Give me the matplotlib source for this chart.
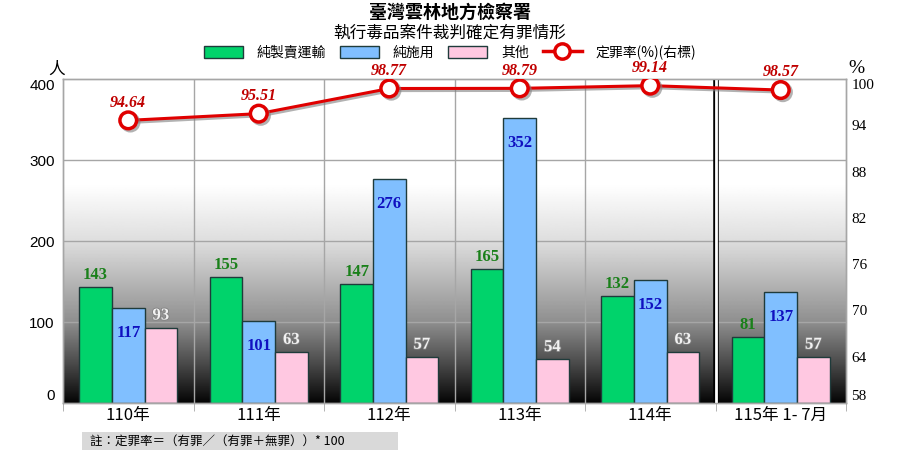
import matplotlib
matplotlib.use("Agg")
import matplotlib.pyplot as plt
import numpy as np
from matplotlib.patches import Patch, Rectangle
from matplotlib.lines import Line2D
import matplotlib.patheffects as pe

categories = ["110年", "111年", "112年", "113年", "114年", "115年 1- 7月"]
trafficking = [143, 155, 147, 165, 132, 81]
usage = [117, 101, 276, 352, 152, 137]
other = [93, 63, 57, 54, 63, 57]
rate = [94.64, 95.51, 98.77, 98.79, 99.14, 98.57]
left_ticks = [0, 100, 200, 300, 400]
right_ticks = [58, 64, 70, 76, 82, 88, 94, 100]
series_names = ["純製賣運輸", "純施用", "其他", "定罪率(%)(右標)"]

CJK = ["Noto Sans CJK TC", "DejaVu Sans"]
SERIF = ["Liberation Serif", "DejaVu Serif"]
SANS = ["Liberation Sans", "DejaVu Sans"]

fig = plt.figure(figsize=(9, 4.5), dpi=100)
ax = fig.add_axes([0.07, 0.1044, 0.87, 0.72])
ax2 = ax.twinx()

n = len(categories)
x = np.arange(n)
w = 0.25
ax.set_xlim(-0.5, n - 0.5)
ax.set_ylim(0, 400)
ax2.set_ylim(58, 100)

# gradient background (white top -> black bottom)
vals = np.linspace(400, 0, 400)
g = np.interp(vals, [0, 50, 100, 200, 270], [0.02, 0.3, 0.56, 0.87, 1.0])
img = np.repeat(g[:, None], 2, axis=1)
ax.imshow(img, cmap="gray", vmin=0, vmax=1, extent=[-0.5, n - 0.5, 0, 400],
          aspect="auto", zorder=0, interpolation="bilinear")

for yv in [100, 200, 300]:
    ax.axhline(yv, color="#a6a6a6", lw=1, zorder=1)
for xb in np.arange(0.5, n - 1, 1.0):
    if abs(xb - 4.5) > 1e-6:
        ax.axvline(xb, color="#a6a6a6", lw=1, zorder=1)

ec = "#1f3b3b"
ax.bar(x - w, trafficking, w, color="#00d36b", edgecolor=ec, lw=1, zorder=2)
ax.bar(x, usage, w, color="#80bfff", edgecolor=ec, lw=1, zorder=2)
ax.bar(x + w, other, w, color="#ffc8e1", edgecolor=ec, lw=1, zorder=2)

# separator double line
ax.axvline(4.5, color="black", lw=4, zorder=3)
ax.axvline(4.5, color="white", lw=2, zorder=3)

for xi, v in zip(x - w, trafficking):
    ax.annotate(str(v), (xi, v), xytext=(0, 3), textcoords="offset points",
                ha="center", va="bottom", fontsize=12, fontweight="bold",
                color="#1a801a", family=SERIF, zorder=5)
for xi, v in zip(x, usage):
    ax.annotate(str(v), (xi, v), xytext=(0, -12), textcoords="offset points",
                ha="center", va="top", fontsize=12, fontweight="bold",
                color="#1010c0", family=SERIF, zorder=5)
for xi, v in zip(x + w, other):
    ax.annotate(str(v), (xi, v), xytext=(0, 3), textcoords="offset points",
                ha="center", va="bottom", fontsize=12, fontweight="bold",
                color="#f2f2f2", family=SERIF, zorder=5,
                path_effects=[pe.withStroke(linewidth=1.2, foreground="#808080")])

ax2.plot(x, rate, color="#e00000", lw=2.2, marker="o", markersize=12,
         markerfacecolor="white", markeredgecolor="#e00000", markeredgewidth=2.5,
         zorder=4,
         path_effects=[pe.SimpleLineShadow(offset=(1.5, -1.5), shadow_color="#808080", alpha=0.6),
                       pe.Normal()])
for xi, v in zip(x, rate):
    ax2.annotate(f"{v:.2f}", (xi, v), xytext=(0, 7), textcoords="offset points",
                 ha="center", va="bottom", fontsize=11.5, fontweight="bold",
                 fontstyle="italic", color="#c00000", family=SERIF)

ax2.patch.set_visible(False)

ax.set_yticks(left_ticks)
ax.set_yticklabels([str(t) for t in left_ticks], family=SANS, fontsize=11)
ax2.set_yticks(right_ticks)
ax2.set_yticklabels([str(t) for t in right_ticks], family=SERIF, fontsize=11)
ax.tick_params(axis="y", length=0, pad=6)
ax2.tick_params(axis="y", length=0, pad=4)
for a in (ax, ax2):
    labs = a.get_yticklabels()
    labs[0].set_va("bottom")
    labs[-1].set_va("top")

ax.set_xticks(x)
ax.set_xticklabels(categories, family=CJK, fontsize=12)
ax.tick_params(axis="x", length=0, pad=3)
ax.set_xticks(np.arange(-0.5, n, 1.0), minor=True)
ax.tick_params(axis="x", which="minor", length=6, color="#a6a6a6")

for a in (ax, ax2):
    for s in a.spines.values():
        s.set_color("#a6a6a6")
        s.set_linewidth(1)

fig.text(0.063, 0.835, "人", family=CJK, fontsize=12, ha="center")
fig.text(0.952, 0.838, "%", family=SERIF, fontsize=14, ha="center")

fig.text(0.5, 0.972, "臺灣雲林地方檢察署", family=CJK, fontsize=13, fontweight="bold",
         ha="center", va="center")
fig.text(0.5, 0.926, "執行毒品案件裁判確定有罪情形", family=CJK, fontsize=12,
         ha="center", va="center")

handles = [
    Patch(facecolor="#00d36b", edgecolor=ec),
    Patch(facecolor="#80bfff", edgecolor=ec),
    Patch(facecolor="#ffc8e1", edgecolor=ec),
    Line2D([0], [0], color="#e00000", lw=2.5, marker="o", markersize=11,
           markerfacecolor="white", markeredgecolor="#e00000", markeredgewidth=2.5),
]
fig.legend(handles, series_names, loc="center", bbox_to_anchor=(0.5, 0.884),
           ncol=4, frameon=False, prop={"family": CJK, "size": 10},
           handlelength=2.8, handleheight=0.9, columnspacing=1.0, handletextpad=1.0,
           borderpad=0.2)

fig.patches.append(Rectangle((0.091, 0.0), 0.351, 0.04, transform=fig.transFigure,
                             facecolor="#d9d9d9", edgecolor="none"))
fig.text(0.1, 0.02, "註：定罪率＝（有罪／（有罪＋無罪））* 100", family=CJK, fontsize=9,
         ha="left", va="center")

fig.savefig("out.png", dpi=100)
